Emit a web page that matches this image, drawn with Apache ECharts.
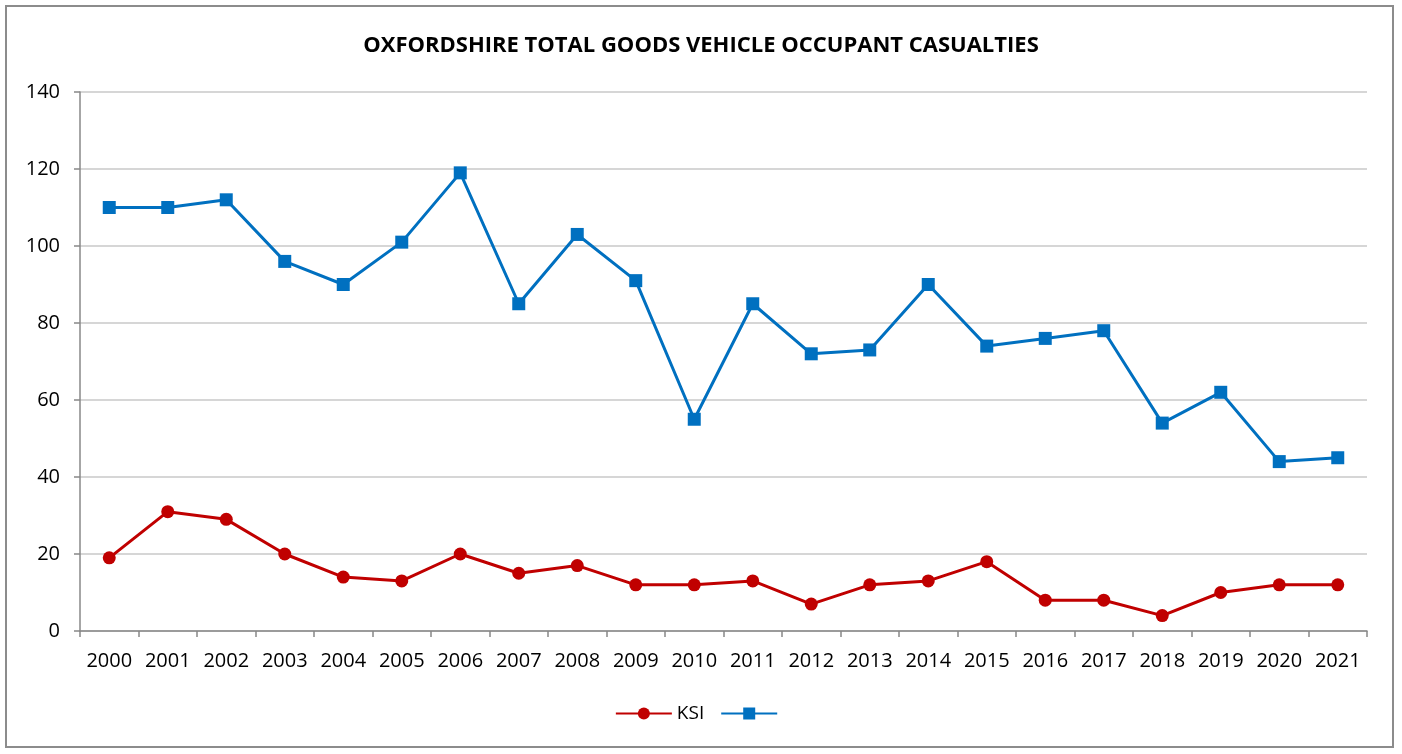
<!DOCTYPE html>
<html><head><meta charset="utf-8">
<script src="https://cdn.jsdelivr.net/npm/echarts@6/dist/echarts.min.js"></script>
<style>html,body{margin:0;padding:0;background:#fff}
#frame{position:absolute;left:5px;top:5px;width:1389px;height:743px;border:2px solid #8c8c8c;box-sizing:border-box}
#c{position:absolute;left:0;top:0;width:1402px;height:754px}</style>
</head><body><div id="frame"></div><div id="c"></div>
<script>
const years = ['2000','2001','2002','2003','2004','2005','2006','2007','2008','2009','2010','2011','2012','2013','2014','2015','2016','2017','2018','2019','2020','2021'];
const ksi = [19,31,29,20,14,13,20,15,17,12,12,13,7,12,13,18,8,8,4,10,12,12];
const total = [110,110,112,96,90,101,119,85,103,91,55,85,72,73,90,74,76,78,54,62,44,45];
const yTicks = [0,20,40,60,80,100,120,140];
const FONT = '"Open Sans", "Noto Sans", sans-serif';
const chart = echarts.init(document.getElementById('c'));
chart.setOption({
  animation:false,
  title:{text:'OXFORDSHIRE TOTAL GOODS VEHICLE OCCUPANT CASUALTIES',left:'center',top:30,
    textStyle:{fontFamily:FONT,fontSize:22,fontWeight:'bold',color:'#000'}},
  grid:{left:80,right:35,top:92,bottom:123},
  legend:{bottom:26,left:'center',itemWidth:56,itemHeight:15,itemGap:16,
    textStyle:{fontFamily:FONT,fontSize:19,color:'#000'},
    data:['KSI',' ']},
  xAxis:{type:'category',data:years,boundaryGap:true,
    axisLine:{lineStyle:{color:'#888',width:1.5}},
    axisTick:{show:true,interval:0,length:6,lineStyle:{color:'#888',width:1.5}},
    axisLabel:{fontFamily:FONT,fontSize:20,color:'#000',margin:20,interval:0}},
  yAxis:{type:'value',min:0,max:140,interval:20,
    axisLine:{show:true,lineStyle:{color:'#888',width:1.5}},
    axisTick:{show:true,length:6,lineStyle:{color:'#888',width:1.5}},
    splitLine:{lineStyle:{color:'#c8c8c8',width:1.5}},
    axisLabel:{fontFamily:FONT,fontSize:20,color:'#000',margin:20,
      formatter:v=>yTicks.includes(v)?String(v):''}},
  series:[
    {name:'KSI',type:'line',data:ksi,symbol:'circle',symbolSize:13,
     itemStyle:{color:'#C00000'},lineStyle:{color:'#C00000',width:3}},
    {name:' ',type:'line',data:total,symbol:'rect',symbolSize:13,
     itemStyle:{color:'#0070C0'},lineStyle:{color:'#0070C0',width:3}}
  ]
});
</script></body></html>
